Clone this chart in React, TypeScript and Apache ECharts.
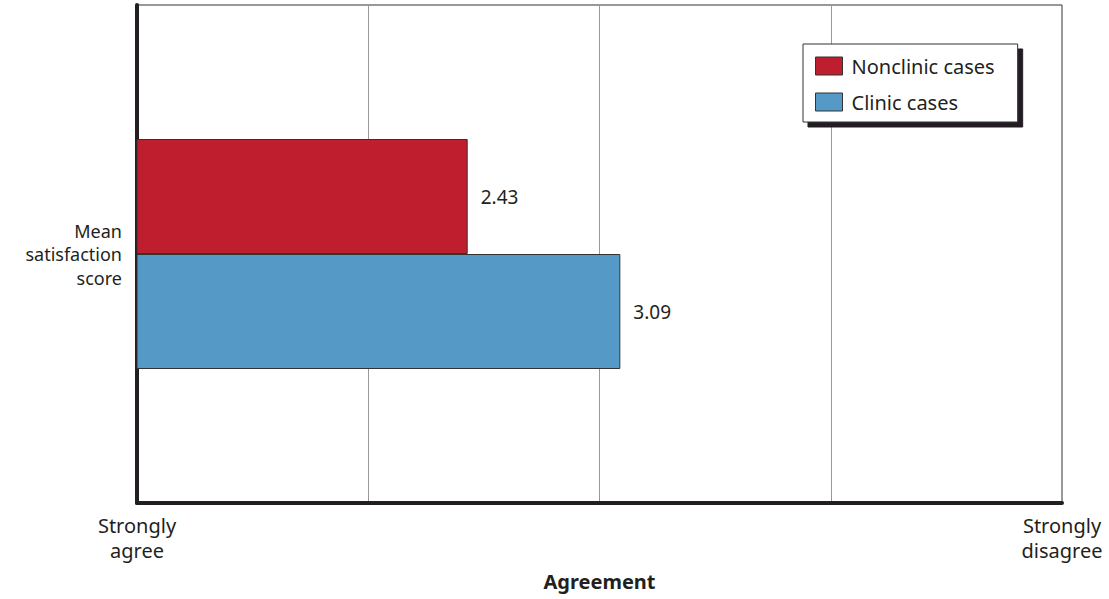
import React, { useEffect, useRef } from "react";
import * as echarts from "echarts";

const categories = ["Mean\nsatisfaction\nscore"];
const seriesNames = ["Nonclinic cases", "Clinic cases"];
const nonclinicValues = [2.43];
const clinicValues = [3.09];
const xTickLabels: Record<number, string> = { 1: "Strongly\nagree", 5: "Strongly\ndisagree" };
const xAxisTitle = "Agreement";

const FONT = "'Noto Sans', 'Open Sans', sans-serif";

export default function App() {
  const ref = useRef<HTMLDivElement>(null);
  useEffect(() => {
    if (!ref.current) return;
    const chart = echarts.init(ref.current, null, { renderer: "svg" });
    const labelCfg = {
      show: true,
      position: "right" as const,
      distance: 13,
      color: "#231f20",
      fontSize: 19,
      fontFamily: FONT,
      formatter: (p: any) => p.value.toFixed(2),
    };
    chart.setOption({
      animation: false,
      backgroundColor: "#fff",
      textStyle: { fontFamily: FONT },
      grid: {
        left: 137,
        right: 47,
        top: 5,
        bottom: 96,
        show: true,
        borderColor: "#333",
        borderWidth: 1,
      },
      legend: {
        orient: "vertical",
        left: 803,
        top: 44,
        padding: [12, 23, 10, 12],
        itemGap: 16,
        itemWidth: 27,
        itemHeight: 18,
        icon: "rect",
        backgroundColor: "#fff",
        borderColor: "#333",
        borderWidth: 1,
        shadowColor: "#231f20",
        shadowBlur: 0,
        shadowOffsetX: 5,
        shadowOffsetY: 5,
        textStyle: { fontSize: 20, color: "#231f20", fontFamily: FONT, padding: [0, 0, 0, 4] },
        itemStyle: { borderColor: "#333", borderWidth: 1 },
        data: seriesNames,
      },
      xAxis: {
        type: "value",
        min: 1,
        max: 5,
        interval: 1,
        axisLine: { show: true, lineStyle: { color: "#231f20", width: 4 } },
        axisTick: { show: false },
        splitLine: { show: true, lineStyle: { color: "#999", width: 1 } },
        axisLabel: {
          formatter: (v: number) => xTickLabels[v] ?? "",
          fontSize: 20,
          lineHeight: 25,
          color: "#231f20",
          margin: 10,
          fontFamily: FONT,
          showMinLabel: true,
          showMaxLabel: true,
        },
        name: xAxisTitle,
        nameLocation: "middle",
        nameGap: 68,
        nameTextStyle: { fontSize: 20, fontWeight: "bold", color: "#231f20", fontFamily: FONT },
      },
      yAxis: {
        type: "category",
        data: categories,
        axisLine: { show: true, lineStyle: { color: "#231f20", width: 4 } },
        axisTick: { show: false },
        axisLabel: {
          fontSize: 18,
          lineHeight: 23.5,
          color: "#231f20",
          align: "right",
          margin: 15,
          fontFamily: FONT,
        },
      },
      series: [
        {
          name: seriesNames[0],
          type: "bar",
          data: nonclinicValues,
          barWidth: 115,
          barGap: "0%",
          itemStyle: { color: "#be1e2d", borderColor: "#333", borderWidth: 1 },
          label: labelCfg,
        },
        {
          name: seriesNames[1],
          type: "bar",
          data: clinicValues,
          barWidth: 115,
          barGap: "0%",
          itemStyle: { color: "#5599c6", borderColor: "#333", borderWidth: 1 },
          label: labelCfg,
        },
      ],
    });
    return () => chart.dispose();
  }, []);
  return <div ref={ref} style={{ width: 1109, height: 599, position: "absolute", left: 0, top: 0 }} />;
}
